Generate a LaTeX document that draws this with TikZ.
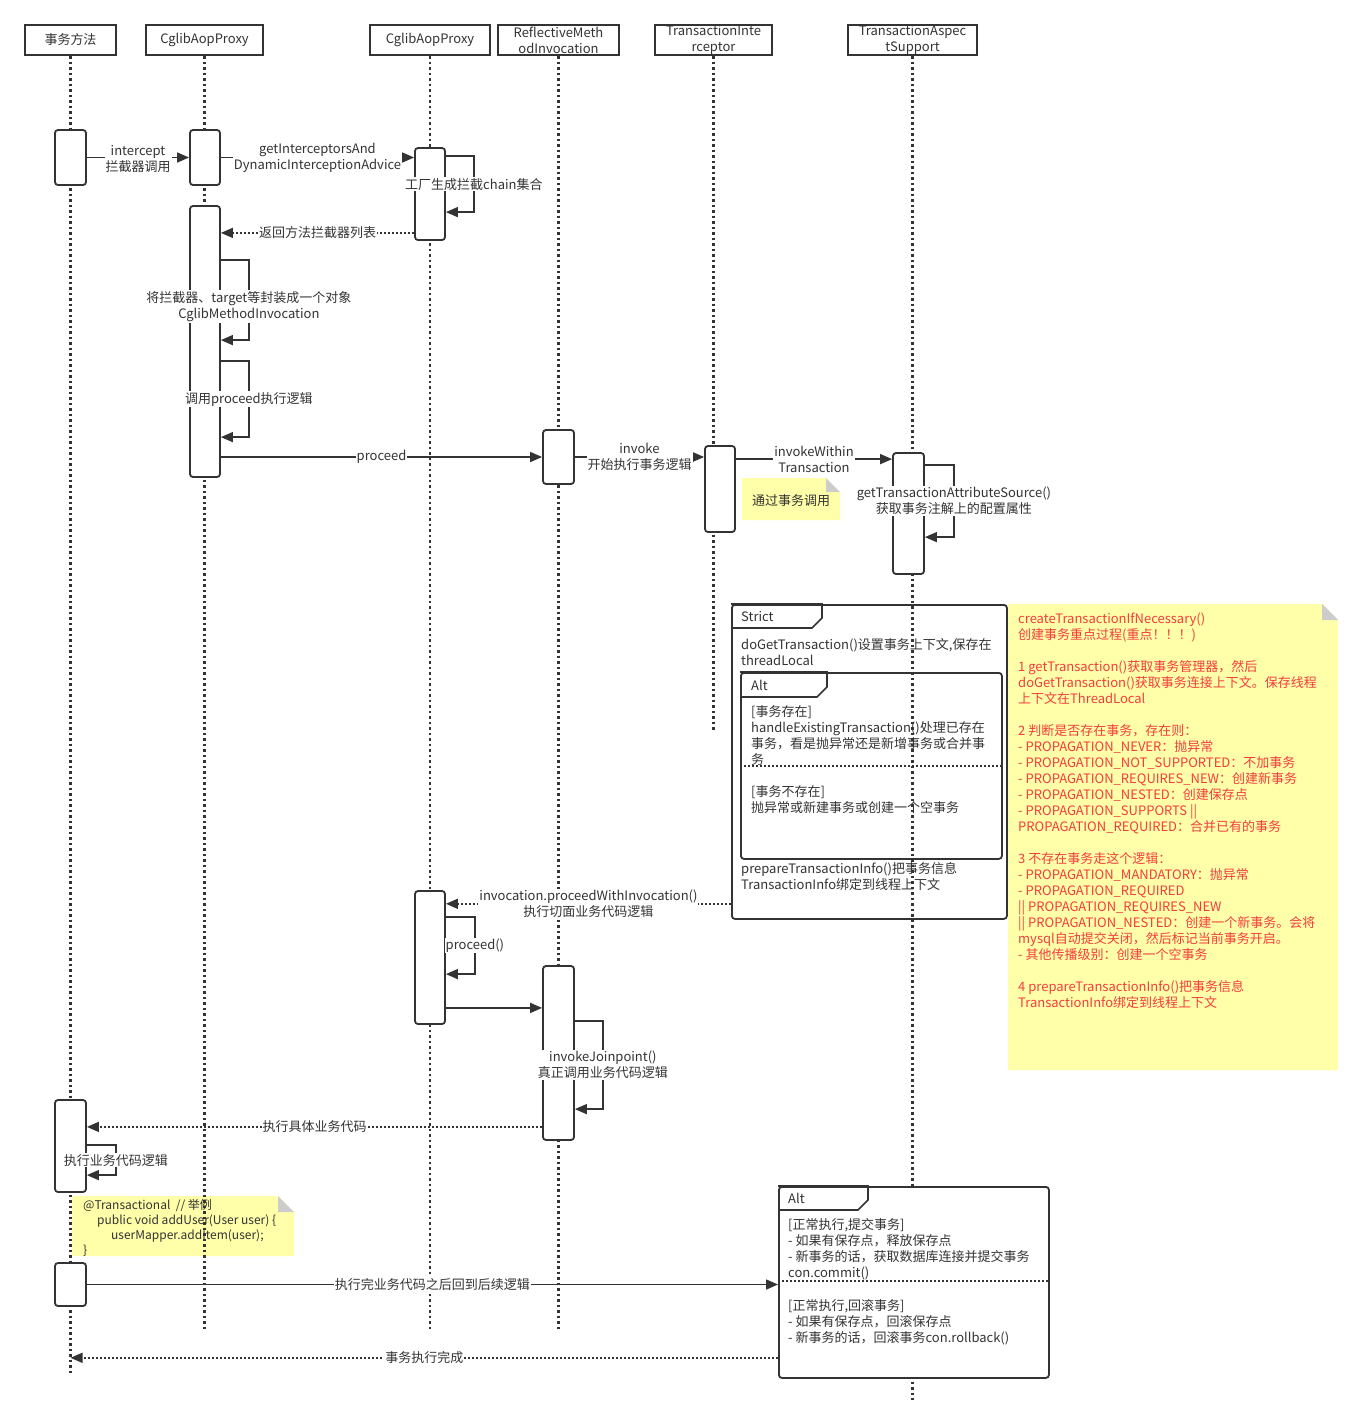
\documentclass[tikz,border=0pt]{standalone}
\usepackage{fontspec}
\setmainfont{Noto Sans CJK SC}
\usetikzlibrary{arrows.meta,calc}
\definecolor{ink}{RGB}{51,51,51}
\definecolor{notey}{RGB}{255,255,170}
\definecolor{ear}{RGB}{204,204,204}
\definecolor{redtxt}{RGB}{245,60,60}
\begin{document}
\begin{tikzpicture}[x=1pt,y=-1pt,
  every node/.style={font=\fontsize{13}{16}\selectfont, text=ink},
  hdr/.style={draw=ink, line width=2pt, fill=white, minimum height=30pt, inner sep=0pt, align=center},
  life/.style={draw=ink, line width=2.2pt, dash pattern=on 2.5pt off 3pt},
  act/.style={draw=ink, line width=1.8pt, fill=white, rounded corners=3pt, inner sep=0pt, minimum width=31pt},
  msg/.style={draw=ink, line width=1.6pt, -{Triangle[length=12pt,width=10pt]}},
  ret/.style={msg, dash pattern=on 2pt off 2pt},
  lbl/.style={fill=white, inner sep=1pt, align=center},
  frm/.style={draw=ink, line width=1.8pt, rounded corners=3pt, inner sep=0pt, anchor=north west},
  txt/.style={inner sep=0pt, anchor=north west, align=left},
  tabtxt/.style={inner sep=0pt, anchor=west},
  divider/.style={draw=ink, line width=1.6pt, dash pattern=on 2pt off 2pt},
]
\useasboundingbox (0,0) rectangle (1363,1425);
\fill[white] (0,0) rectangle (1363,1425);

% ---------- notes ----------
\fill[notey] (72,1196) -- (278,1196) -- (294,1212) -- (294,1256) -- (72,1256) -- cycle;
\fill[ear] (278,1196) -- (294,1212) -- (278,1212) -- cycle;
\node[txt, font=\fontsize{12}{15}\selectfont] (code) at (83,1199)
  {@Transactional\ \ // 举例\\\hspace*{14pt}public void addUser(User user) \{\\\hspace*{28pt}userMapper.addItem(user);\\\}};

\fill[notey] (742,478) -- (826,478) -- (840,492) -- (840,520) -- (742,520) -- cycle;
\fill[ear] (826,478) -- (840,492) -- (826,492) -- cycle;
\node[inner sep=0pt] (n1) at (791,501) {通过事务调用};

\fill[notey] (1008,604) -- (1322,604) -- (1338,620) -- (1338,1070) -- (1008,1070) -- cycle;
\fill[ear] (1322,604) -- (1338,620) -- (1322,620) -- cycle;
\node[txt, text=redtxt] (bignote) at (1018,613)
  {createTransactionIfNecessary()\\
   创建事务重点过程(重点！！！)\\[16pt]
   1 getTransaction()获取事务管理器，然后\\
   doGetTransaction()获取事务连接上下文。保存线程\\
   上下文在ThreadLocal\\[16pt]
   2 判断是否存在事务，存在则：\\
   - PROPAGATION\_NEVER：抛异常\\
   - PROPAGATION\_NOT\_SUPPORTED：不加事务\\
   - PROPAGATION\_REQUIRES\_NEW：创建新事务\\
   - PROPAGATION\_NESTED：创建保存点\\
   - PROPAGATION\_SUPPORTS ||\\
   PROPAGATION\_REQUIRED：合并已有的事务\\[16pt]
   3 不存在事务走这个逻辑：\\
   - PROPAGATION\_MANDATORY：抛异常\\
   - PROPAGATION\_REQUIRED\\
   || PROPAGATION\_REQUIRES\_NEW\\
   || PROPAGATION\_NESTED：创建一个新事务。会将\\
   mysql自动提交关闭，然后标记当前事务开启。\\
   - 其他传播级别：创建一个空事务\\[16pt]
   4 prepareTransactionInfo()把事务信息\\
   TransactionInfo绑定到线程上下文};

% ---------- headers ----------
\node[hdr, minimum width=91pt] (h1) at (70.5,40) {\raisebox{-2pt}{事务方法}};
\node[hdr, minimum width=117pt] (h2) at (204.5,40) {\raisebox{-2pt}{CglibAopProxy}};
\node[hdr, minimum width=120pt] (h3) at (430,40) {\raisebox{-2pt}{CglibAopProxy}};
\node[hdr, minimum width=121pt] (h4) at (558.5,40) {ReflectiveMeth\\odInvocation};
\node[hdr, minimum width=117pt] (h5) at (713.5,40) {TransactionInte\\rceptor};
\node[hdr, minimum width=129pt] (h6) at (912.5,40) {TransactionAspec\\tSupport};

% ---------- lifelines ----------
\coordinate (z1) at (70.5,1375);
\coordinate (z2) at (204.5,1330);
\coordinate (z3) at (430,1330);
\coordinate (z4) at (558.5,1330);
\coordinate (z5) at (713.5,730);
\coordinate (z6) at (912.5,1400);
\draw[life] (h1.south) -- (z1);
\draw[life] (h2.south) -- (z2);
\draw[life] (h3.south) -- (z3);
\draw[life] (h4.south) -- (z4);
\draw[life] (h5.south) -- (z5);
\draw[life] (h6.south) -- (z6);

% ---------- Strict frame ----------
\node[frm, minimum width=275pt, minimum height=314pt] (strict) at (731,604) {};
\draw[draw=ink, line width=1.6pt] (strict.north west) -- ++(91,0) -- ++(0,14) -- ++(-10,10) -- ++(-81,0);
\node[tabtxt] (stricttab) at (741,617) {Strict};
\node[txt] (st1) at (741,638) {doGetTransaction()设置事务上下文,保存在\\threadLocal};
\node[frm, minimum width=261pt, minimum height=186pt] (altin) at (740,672) {};
\draw[draw=ink, line width=1.6pt] (altin.north west) -- ++(87,0) -- ++(0,15) -- ++(-10,10) -- ++(-77,0);
\node[tabtxt] (altintab) at (751,685) {Alt};
\draw[divider] ([yshift=-94pt]altin.north west) -- ([yshift=-94pt]altin.north east);
\node[txt] (st2) at (751,705) {[事务存在]\\handleExistingTransaction()处理已存在\\事务，看是抛异常还是新增事务或合并事\\务};
\node[txt] (st3) at (751,785) {[事务不存在]\\抛异常或新建事务或创建一个空事务};
\node[txt] (st4) at (741,862) {prepareTransactionInfo()把事务信息\\TransactionInfo绑定到线程上下文};

% ---------- Alt frame (bottom) ----------
\node[frm, fill=white, minimum width=270pt, minimum height=191pt] (alt2) at (778,1186) {};
\draw[draw=ink, line width=1.6pt] (alt2.north west) -- ++(90,0) -- ++(0,14) -- ++(-10,10) -- ++(-80,0);
\node[tabtxt] (alt2tab) at (788,1198) {Alt};
\draw[divider] ([yshift=-95pt]alt2.north west) -- ([yshift=-95pt]alt2.north east);
\node[txt] (at1) at (788,1218) {[正常执行,提交事务]\\- 如果有保存点，释放保存点\\- 新事务的话，获取数据库连接并提交事务\\con.commit()};
\node[txt] (at2) at (788,1299) {[正常执行,回滚事务]\\- 如果有保存点，回滚保存点\\- 新事务的话，回滚事务con.rollback()};

% ---------- activation boxes ----------
\node[act, minimum height=55pt] (a1) at (70.5,157.5) {};
\node[act, minimum height=55pt, minimum width=30pt] (b1) at (205,157.5) {};
\node[act, minimum height=92pt, minimum width=30pt] (c1) at (430,194) {};
\node[act, minimum height=271pt, minimum width=30pt] (b2) at (205,341.5) {};
\node[act, minimum height=54pt] (d1) at (558.5,457) {};
\node[act, minimum height=86pt, minimum width=30pt] (e1) at (720,489) {};
\node[act, minimum height=121pt] (f1) at (908.5,513.5) {};
\node[act, minimum height=133pt, minimum width=30pt] (c2) at (430,957.5) {};
\node[act, minimum height=174pt] (d2) at (558.5,1053) {};
\node[act, minimum height=92pt] (a2) at (70.5,1146) {};
\node[act, minimum height=43pt] (a3) at (70.5,1284.5) {};

% ---------- messages ----------
\draw[msg] (a1.east) -- node[lbl, yshift=-2pt] {intercept\\拦截器调用} (b1.west);
\draw[msg] (b1.east) -- node[lbl] {getInterceptorsAnd\\DynamicInterceptionAdvice} (b1.east -| c1.west);
\draw[msg] ([yshift=-9pt]c1.north east) -- ++(28,0) -- ++(0,56) node[lbl, midway] {工厂生成拦截chain集合} -- ++(-28,0);
\draw[ret] ([yshift=8pt]c1.south west) coordinate (r1) -- node[lbl] {返回方法拦截器列表} (r1 -| b2.east);
\draw[msg] ([yshift=-55pt]b2.north east) -- ++(28,0) -- ++(0,80) node[lbl, pos=0.58] {将拦截器、target等封装成一个对象\\CglibMethodInvocation} -- ++(-28,0);
\draw[msg] ([yshift=-156pt]b2.north east) -- ++(28,0) -- ++(0,76) node[lbl, midway] {调用proceed执行逻辑} -- ++(-28,0);
\draw[msg] (b2.east |- d1.west) -- node[lbl] {proceed} (d1.west);
\draw[msg] (d1.east) -- node[lbl] {invoke\\开始执行事务逻辑} (d1.east -| e1.west);
\draw[msg] ([yshift=-14pt]e1.north east) coordinate (r2) -- node[lbl] {invokeWithin\\Transaction} (r2 -| f1.west);
\draw[msg] ([yshift=-13pt]f1.north east) -- ++(29,0) -- ++(0,72) node[lbl, midway] {getTransactionAttributeSource()\\获取事务注解上的配置属性} -- ++(-29,0);
\draw[ret] ([yshift=16pt]strict.south west) coordinate (r3) -- node[lbl] {invocation.proceedWithInvocation()\\执行切面业务代码逻辑} (r3 -| c2.east);
\draw[msg] ([yshift=-27pt]c2.north east) -- ++(29,0) -- ++(0,57) node[lbl, midway] {proceed()} -- ++(-29,0);
\draw[msg] ([yshift=17pt]c2.south east) coordinate (r4) -- (r4 -| d2.west);
\draw[msg] ([yshift=-56pt]d2.north east) -- ++(28,0) -- ++(0,88) node[lbl, midway] {invokeJoinpoint()\\真正调用业务代码逻辑} -- ++(-28,0);
\draw[ret] ([yshift=14pt]d2.south west) coordinate (r5) -- node[lbl] {执行具体业务代码} (r5 -| a2.east);
\draw[msg] ([yshift=-46pt]a2.north east) -- ++(29,0) -- ++(0,30) node[lbl, midway] {执行业务代码逻辑} -- ++(-29,0);
\draw[msg] (a3.east) -- node[lbl] {执行完业务代码之后回到后续逻辑} (a3.east -| alt2.west);
\draw[ret] ([yshift=21pt]alt2.south west) coordinate (r6) -- node[lbl] {事务执行完成} (r6 -| h1.south);
\end{tikzpicture}
\end{document}
